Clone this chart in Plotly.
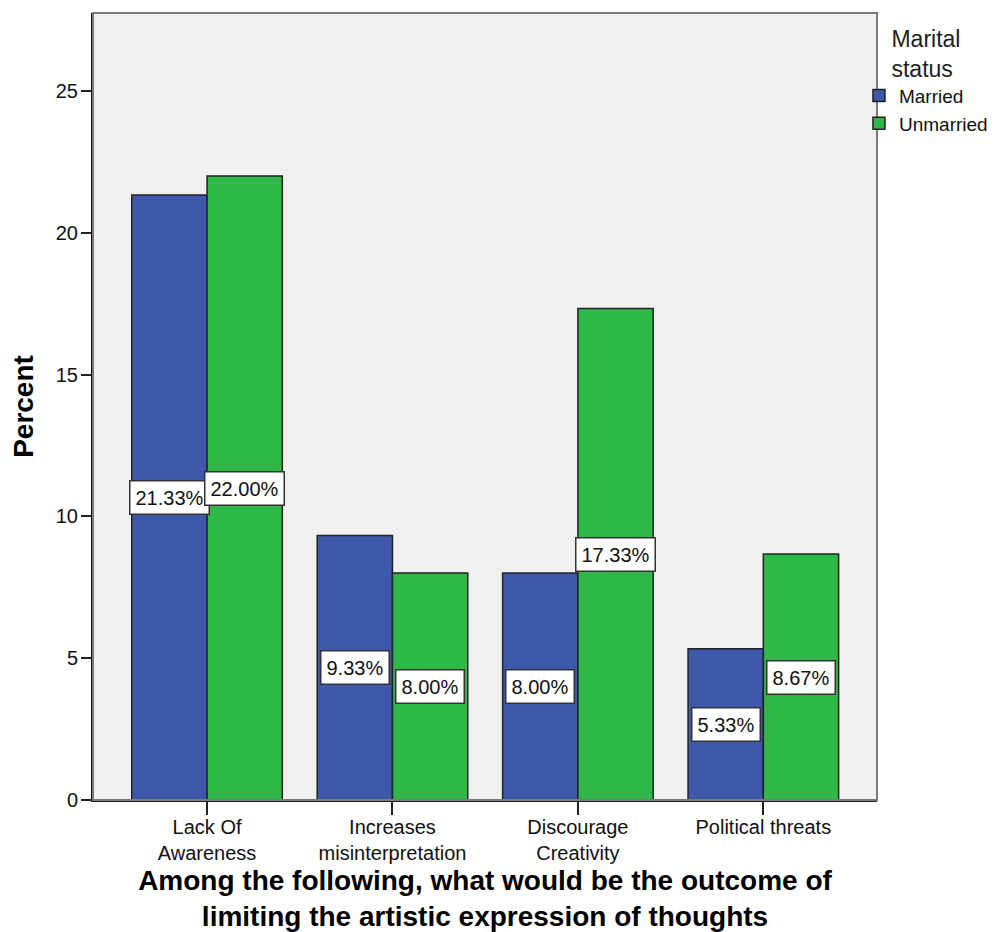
import plotly.graph_objects as go

categories = ["Lack Of<br>Awareness", "Increases<br>misinterpretation", "Discourage<br>Creativity", "Political threats"]
married = [21.33, 9.33, 8.00, 5.33]
unmarried = [22.00, 8.00, 17.33, 8.67]
series_names = ["Married", "Unmarried"]
series_colors = ["#3E58AC", "#2EB848"]
y_ticks = [0, 5, 10, 15, 20, 25]

FONT = "Arial, Liberation Sans, sans-serif"
BARGAP = 0.188

fig = go.Figure()
for name, vals, col in zip(series_names, [married, unmarried], series_colors):
    fig.add_trace(go.Bar(
        name=name, x=categories, y=vals,
        marker=dict(color=col, line=dict(color="#222222", width=1.5)),
    ))

# value labels in white boxes, centred on each bar
half = (1 - BARGAP) / 4
annotations = []
for s, vals in enumerate([married, unmarried]):
    off = -half if s == 0 else half
    for j, v in enumerate(vals):
        annotations.append(dict(
            x=j + off, y=v / 2, xref="x", yref="y",
            text=f"{v:.2f}%", showarrow=False,
            font=dict(family=FONT, size=20, color="#111111"),
            bgcolor="white", bordercolor="#333333", borderwidth=1.5, borderpad=5,
            xanchor="center", yanchor="middle",
        ))

# the page body adds an ~8px offset, so the figure is sized to fit the visible window
fig.update_layout(
    width=992, height=924,
    margin=dict(l=85, r=123, t=5, b=132, autoexpand=False),
    paper_bgcolor="white", plot_bgcolor="#F0F0F0",
    barmode="group", bargap=BARGAP, bargroupgap=0,
    font=dict(family=FONT, size=20, color="#111111"),
    annotations=annotations,
    showlegend=True,
    legend=dict(
        x=0.977, y=0.995, xanchor="left", yanchor="top",
        bgcolor="rgba(0,0,0,0)",
        title=dict(text="Marital<br>status", side="top center",
                   font=dict(family=FONT, size=23, color="#222222")),
        font=dict(family=FONT, size=19, color="#111111"),
        tracegroupgap=0,
    ),
    shapes=[dict(type="rect", xref="paper", yref="paper", x0=0, x1=1, y0=0, y1=1,
                 line=dict(color="#7A7A7A", width=2), layer="above")],
)

fig.update_xaxes(
    range=[-0.615, 3.613], showgrid=False, zeroline=False, automargin=False,
    showline=True, linecolor="#222222", linewidth=2,
    ticks="outside", ticklen=13, tickwidth=2, tickcolor="#222222",
    ticklabelstandoff=-5,
    tickfont=dict(family=FONT, size=20, color="#111111"),
    title=dict(text="<b>Among the following, what would be the outcome of<br>limiting the artistic expression of thoughts</b>",
               font=dict(family=FONT, size=28, color="#000000"), standoff=11),
)
fig.update_yaxes(
    range=[0, 27.75], tickvals=y_ticks, showgrid=False, zeroline=False, automargin=False,
    showline=True, linecolor="#111111", linewidth=2,
    ticks="outside", ticklen=10, tickwidth=2, tickcolor="#222222",
    ticklabelstandoff=-1,
    tickfont=dict(family=FONT, size=20, color="#111111"),
    title=dict(text="<b>Percent</b>", font=dict(family=FONT, size=28, color="#000000"), standoff=20),
)

fig.write_html("out.html")
